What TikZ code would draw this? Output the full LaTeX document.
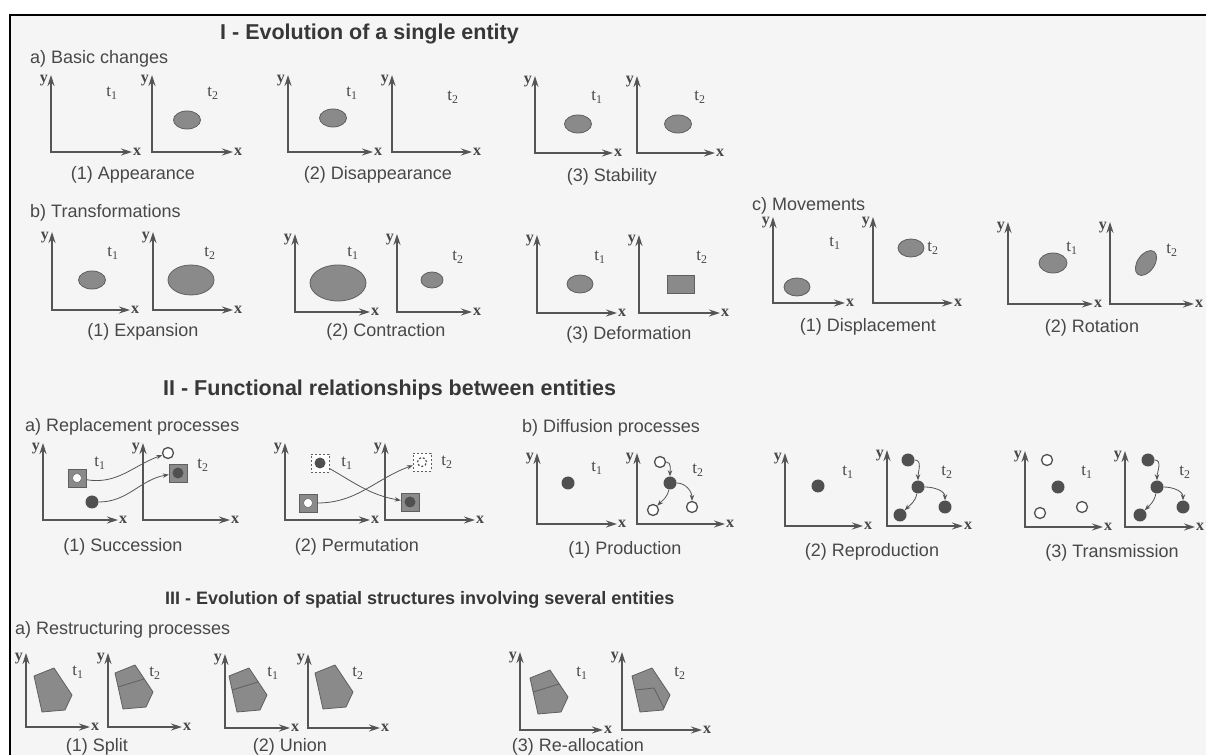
\documentclass[tikz,border=0pt]{standalone}
\usepackage{fontspec}
\setmainfont{Liberation Sans}
\newfontfamily\axisfont{Liberation Serif}
\usetikzlibrary{shapes.geometric, arrows.meta, positioning}
\definecolor{inkgray}{RGB}{72,72,72}
\definecolor{titlegray}{RGB}{55,55,55}
\definecolor{axisgray}{RGB}{85,85,85}
\definecolor{blobfill}{RGB}{138,138,138}
\definecolor{blobline}{RGB}{95,95,95}
\definecolor{dotfill}{RGB}{80,80,80}
\definecolor{paper}{RGB}{245,245,245}

\begin{document}
\begin{tikzpicture}[x=1pt, y=1pt,
    axispair/.style={axisgray, line width=1.4pt,
        {Stealth[length=11pt,width=7pt]}-{Stealth[length=11pt,width=7pt]}},
    axlbl/.style={font=\axisfont\bfseries\fontsize{16}{16}\selectfont, text=inkgray, inner sep=0pt},
    tlbl/.style={font=\axisfont\fontsize{17}{17}\selectfont, text=inkgray, inner sep=0pt},
    blob/.style={ellipse, draw=blobline, fill=blobfill, line width=0.8pt, inner sep=0pt},
    cell/.style={draw=blobline, fill=blobfill, line width=0.8pt, line join=round},
    cellline/.style={draw=blobline, line width=0.8pt},
    fulldot/.style={circle, fill=dotfill, inner sep=0pt, minimum size=13pt},
    ring/.style={circle, draw=dotfill, fill=white, line width=1.3pt, inner sep=0pt, minimum size=11pt},
    holebox/.style={rectangle, draw=blobline, fill=blobfill, minimum size=18pt, inner sep=0pt,
        path picture={\filldraw[fill=white, draw=blobline] (path picture bounding box.center) circle (4.5pt);}},
    fullbox/.style={rectangle, draw=blobline, fill=blobfill, minimum size=18pt, inner sep=0pt,
        path picture={\fill[dotfill] (path picture bounding box.center) circle (5.5pt);}},
    dashdot/.style={rectangle, draw=blobline, dash pattern=on 2pt off 2pt, fill=white, minimum size=18pt, inner sep=0pt,
        path picture={\fill[dotfill] (path picture bounding box.center) circle (5.5pt);}},
    dashhole/.style={rectangle, draw=blobline, dash pattern=on 2pt off 2pt, fill=white, minimum size=18pt, inner sep=0pt,
        path picture={\draw[dotfill, line width=1.2pt] (path picture bounding box.center) circle (4.5pt);}},
    link/.style={axisgray, line width=0.8pt, -{Stealth[length=6pt,width=4.5pt]}},
    heading/.style={anchor=west, text=titlegray, inner sep=0pt, font=\bfseries\fontsize{21.5}{24}\selectfont},
    subhead/.style={anchor=west, text=inkgray, inner sep=0pt, font=\fontsize{18}{20}\selectfont},
    capt/.style={text=inkgray, inner sep=0pt, font=\fontsize{18}{20}\selectfont}
]
\useasboundingbox (0,0) rectangle (1206,755);
% Page and frame
\fill[paper] (10,0) rectangle (1206,740);
\draw[black, line width=2pt] (10,0) -- (10,740) -- (1206,740);

% Headings
\node[heading] (h1) at (220,721) {I - Evolution of a single entity};
\node[subhead] (h1a) at (30,696) {a) Basic changes};
\node[subhead] (h1b) at (30,542) {b) Transformations};
\node[subhead] (h1c) at (752,549) {c) Movements};
\node[heading] (h2) at (163,365) {II - Functional relationships between entities};
\node[subhead] (h2a) at (25,328) {a) Replacement processes};
\node[subhead] (h2b) at (522,327) {b) Diffusion processes};
\node[heading, font=\bfseries\fontsize{18}{20}\selectfont] (h3) at (165,155)
    {III - Evolution of spatial structures involving several entities};
\node[subhead] (h3a) at (15,125) {a) Restructuring processes};

% Axes: corner x / corner y / length of x axis / length of y axis
\foreach \ox/\oy/\w/\h [count=\i] in {
    51/603/81/77, 152/603/81/77, 288/603/85/77, 392/603/80/77, 535/602/78/77, 637/602/78/77,
    52/445/78/78, 153/445/80/78, 295/443/75/78, 397/443/75/78, 537/442/80/78, 639/442/81/78,
    773/452/72/86, 873/452/80/86, 1008/451/85/82, 1110/451/84/82,
    43/235/75/77, 143/235/87/77, 285/235/85/77, 385/235/90/77,
    537/231/80/71, 637/231/88/71, 785/229/78/73, 887/229/76/76, 1025/228/78/76, 1125/228/70/76,
    26/28/64/74, 108/28/74/74, 225/27/65/74, 308/27/72/74, 520/25/83/78, 622/25/80/78} {
    \draw[axispair] (\ox,\oy+\h) -- (\ox,\oy) -- (\ox+\w,\oy);
    \node[axlbl, anchor=east] (ay\i) at (\ox-3,\oy+\h-6) {y};
    \node[axlbl, anchor=west] (ax\i) at (\ox+\w+1,\oy) {x};
}

% Time labels
\foreach \tx/\ty/\k [count=\j] in {
    112/662/1, 213/662/2, 352/662/1, 453/658/2, 597/658/1, 700/658/2,
    113/502/1, 210/502/2, 353/502/1, 458/498/2, 600/498/1, 702/498/2,
    835/512/1, 933/507/2, 1072/507/1, 1172/505/2,
    100/292/1, 203/290/2, 347/292/1, 447/293/2,
    597/287/1, 698/285/2, 848/283/1, 947/283/2, 1087/283/1, 1185/283/2,
    78/83/1, 155/82/2, 273/82/1, 358/82/2, 582/82/1, 680/82/2} {
    \node[tlbl] (t\j) at (\tx,\ty) {t\textsubscript{\k}};
}

% Captions
\foreach \cx/\cy/\txt [count=\j] in {
    133/580/{(1) Appearance}, 378/580/{(2) Disappearance}, 612/578/{(3) Stability},
    143/423/{(1) Expansion}, 386/423/{(2) Contraction}, 629/420/{(3) Deformation},
    868/428/{(1) Displacement}, 1092/427/{(2) Rotation},
    123/208/{(1) Succession}, 357/208/{(2) Permutation},
    625/205/{(1) Production}, 872/203/{(2) Reproduction}, 1112/202/{(3) Transmission},
    97/8/{(1) Split}, 290/8/{(2) Union}, 578/8/{(3) Re-allocation}} {
    \node[capt] (cap\j) at (\cx,\cy) {\txt};
}

% I a) Basic changes
\node[blob, minimum width=27pt, minimum height=18pt] (app2) at (187,635) {};
\node[blob, minimum width=27pt, minimum height=18pt] (dis1) at (333,637) {};
\node[blob, minimum width=27pt, minimum height=18pt] (sta1) at (578,631) {};
\node[blob, minimum width=27pt, minimum height=18pt] (sta2) at (678,631) {};

% I b) Transformations
\node[blob, minimum width=27pt, minimum height=18pt] (exp1) at (92,475) {};
\node[blob, minimum width=46pt, minimum height=30pt] (exp2) at (191,475) {};
\node[blob, minimum width=56pt, minimum height=36pt] (con1) at (338,472) {};
\node[blob, minimum width=22pt, minimum height=16pt] (con2) at (432,475) {};
\node[blob, minimum width=26pt, minimum height=18pt] (def1) at (580,471) {};
\node[rectangle, draw=blobline, fill=blobfill, line width=0.8pt, minimum width=27pt,
      minimum height=18pt, inner sep=0pt] (def2) at (681,471) {};

% I c) Movements
\node[blob, minimum width=26pt, minimum height=18pt] (mov1) at (797,468) {};
\node[blob, minimum width=26pt, minimum height=18pt] (mov2) at (911,507) {};
\node[blob, minimum width=28pt, minimum height=20pt] (rot1) at (1053,492) {};
\node[blob, minimum width=28pt, minimum height=17pt, rotate=55] (rot2) at (1146,492) {};

% II a) Replacement processes
\node[holebox] (suc1a) at (77,277) {};
\node[fulldot] (suc1b) at (92,253) {};
\node[ring] (suc2a) at (168,302) {};
\node[fullbox] (suc2b) at (178,282) {};
\draw[link] (suc1a) to[out=-10, in=200] (suc2a);
\draw[link] (suc1b) to[out=0, in=190] (suc2b);

\node[dashdot] (per1a) at (320,292) {};
\node[holebox] (per1b) at (308,252) {};
\node[dashhole] (per2a) at (422,293) {};
\node[fullbox] (per2b) at (410,253) {};
\draw[link] (per1a) to[out=-30, in=170] (per2b);
\draw[link] (per1b) to[out=0, in=200] (per2a);

% II b) Diffusion processes
\node[fulldot] (pro1) at (568,272) {};
\node[ring] (pro2t) at (660,293) {};
\node[fulldot] (pro2c) at (670,272) {};
\node[ring] (pro2l) at (653,245) {};
\node[ring] (pro2r) at (692,248) {};
\draw[link] (pro2t) to[out=0, in=90] (pro2c);
\draw[link] (pro2c) to[out=0, in=90] (pro2r);
\draw[link] (pro2c) to[out=-100, in=45] (pro2l);

\node[fulldot] (rep1) at (818,269) {};
\node[fulldot] (rep2t) at (908,295) {};
\node[fulldot] (rep2c) at (918,268) {};
\node[fulldot] (rep2l) at (900,240) {};
\node[fulldot] (rep2r) at (945,248) {};
\draw[link] (rep2t) to[out=0, in=90] (rep2c);
\draw[link] (rep2c) to[out=0, in=90] (rep2r);
\draw[link] (rep2c) to[out=-100, in=45] (rep2l);

\node[ring] (tra1t) at (1047,295) {};
\node[fulldot] (tra1c) at (1058,268) {};
\node[ring] (tra1l) at (1040,242) {};
\node[ring] (tra1r) at (1082,248) {};
\node[fulldot] (tra2t) at (1148,295) {};
\node[fulldot] (tra2c) at (1157,268) {};
\node[fulldot] (tra2l) at (1140,240) {};
\node[fulldot] (tra2r) at (1183,248) {};
\draw[link] (tra2t) to[out=0, in=90] (tra2c);
\draw[link] (tra2c) to[out=0, in=90] (tra2r);
\draw[link] (tra2c) to[out=-100, in=45] (tra2l);

% III a) Restructuring processes
\foreach \px/\py in {52/65, 133/68, 247/65, 333/68, 548/63, 650/65} {
    \draw[cell, shift={(\px,\py)}] (2,22) -- (20,-5) -- (13,-20) -- (-10,-22) -- (-18,14) -- cycle;
}
\draw[cellline, shift={(133,68)}] (-15,0) -- (11,8);
\draw[cellline, shift={(247,65)}] (-15,0) -- (11,8);
\draw[cellline, shift={(548,63)}] (-15,0) -- (11,8);
\draw[cellline, shift={(650,65)}] (-15,0) -- (4,2) -- (14,-18);
\end{tikzpicture}
\end{document}
